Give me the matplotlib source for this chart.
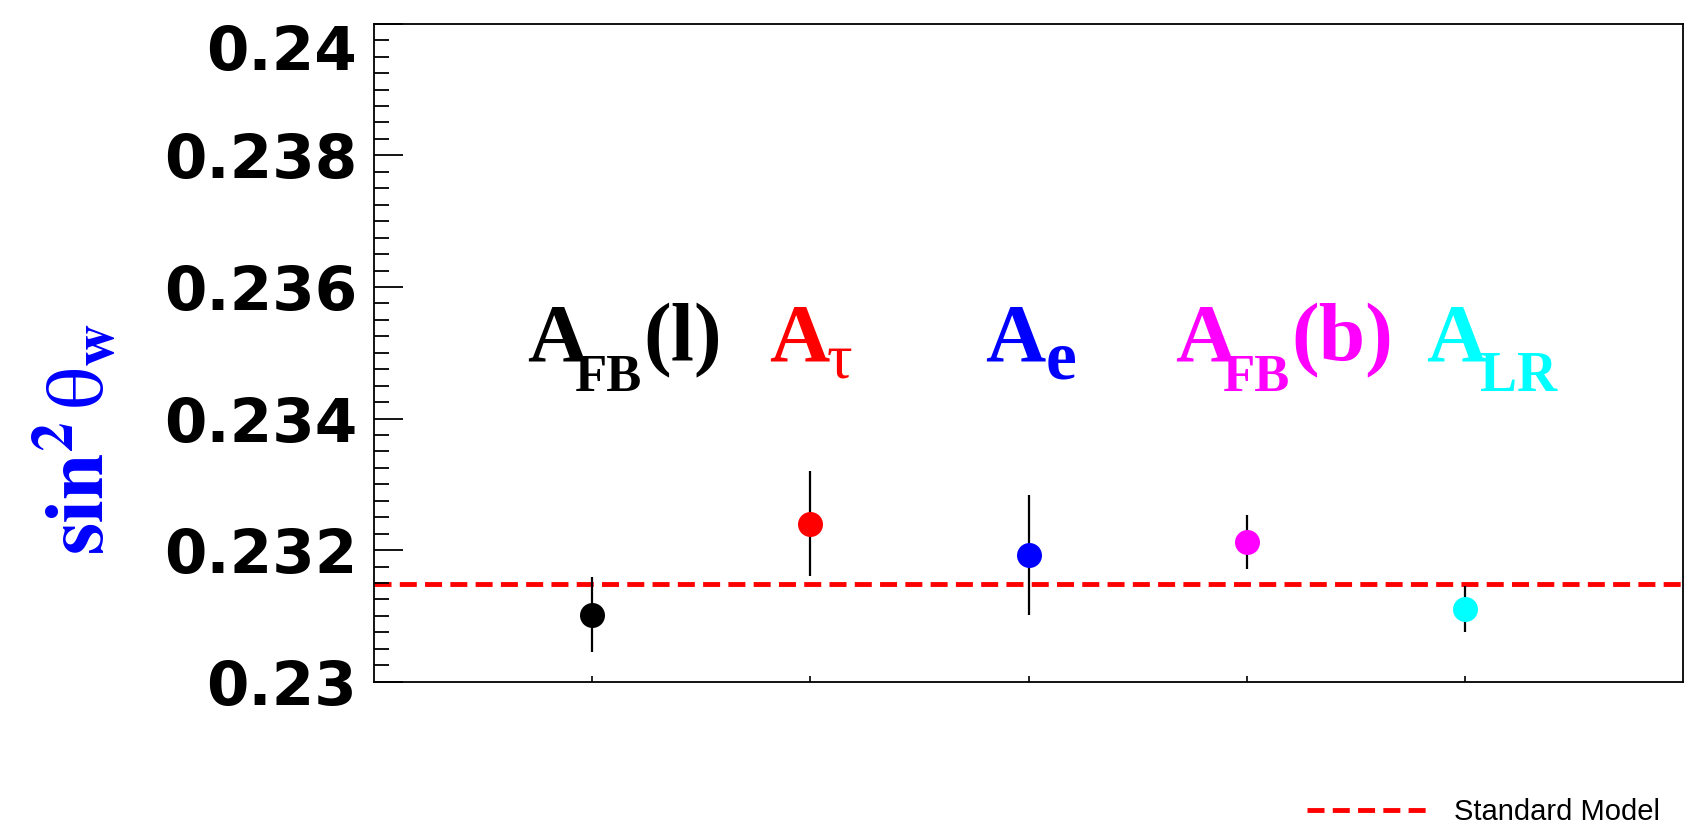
import numpy as np
import matplotlib.pyplot as plt
from matplotlib.ticker import MultipleLocator

plt.rcParams['mathtext.fontset'] = 'stix'

# 测量值 (sin^2 theta_w)
x_pos = [1, 2, 3, 4, 5]
sin2_values = [0.23102, 0.23240, 0.23193, 0.23212, 0.23110]
sin2_errors = [0.00057, 0.00080, 0.00091, 0.00041, 0.00035]
point_colors = ['black', 'red', 'blue', 'magenta', 'cyan']

# 标签: 主体 + 下标 + 后缀
label_main = ['A', 'A', 'A', 'A', 'A']
label_sub = ['FB', 'τ', 'e', 'FB', 'LR']
label_suffix = ['(l)', '', '', '(b)', '']
label_x = [0.70, 1.81, 2.80, 3.67, 4.82]
label_y = 0.23488

# 下标的字号、横向偏移、下沉量 (points)
sub_size = [38, 46, 50, 38, 40]
sub_dx = [-9, -2, 0, -9, -4]
sub_drop = [22, 12, 13, 22, 22]

# 标准模型
sm_value = 0.23148

y_ticks = [0.230, 0.232, 0.234, 0.236, 0.238, 0.240]
y_ticklabels = ['0.23', '0.232', '0.234', '0.236', '0.238', '0.24']

serif = ['Liberation Serif', 'DejaVu Serif']

fig = plt.figure(figsize=(16.94, 8.35), dpi=100)
ax = fig.add_axes([0.2208, 0.1836, 0.7728, 0.7879])

# 标准模型虚线
sm_line = ax.axhline(sm_value, color='red', linestyle=(0, (3.5, 1.7)), linewidth=3.5,
                     label='Standard Model', zorder=1)

# 误差棒和数据点
ax.errorbar(x_pos, sin2_values, yerr=sin2_errors, fmt='none', ecolor='black',
            elinewidth=1.6, capsize=0, zorder=2)
for x, y, c in zip(x_pos, sin2_values, point_colors):
    ax.plot(x, y, 'o', color=c, markersize=18, markeredgewidth=0, zorder=3)

# 手动拼接标签 (下标位置更低)
for i, c in enumerate(point_colors):
    t_main = ax.text(label_x[i], label_y, label_main[i], color=c, fontsize=60,
                     fontweight='bold', family=serif, ha='left', va='baseline')
    sub_weight = 'normal' if label_sub[i] == 'τ' else 'bold'
    t_sub = ax.annotate(label_sub[i], xy=(1, label_y), xycoords=(t_main, 'data'),
                        xytext=(sub_dx[i], -sub_drop[i]), textcoords='offset points',
                        color=c, fontsize=sub_size[i], fontweight=sub_weight,
                        family=serif, ha='left', va='baseline')
    if label_suffix[i]:
        ax.annotate(label_suffix[i], xy=(1, label_y), xycoords=(t_sub, 'data'),
                    xytext=(1, 0), textcoords='offset points',
                    color=c, fontsize=60, fontweight='bold', family=serif,
                    ha='left', va='baseline')

ax.set_xlim(0, 6)
ax.set_ylim(0.23, 0.24)
ax.set_xticks(x_pos)
ax.set_xticklabels([])
ax.set_yticks(y_ticks)
ax.set_yticklabels(y_ticklabels, fontsize=44, fontweight='bold', family='DejaVu Sans')
ax.yaxis.set_minor_locator(MultipleLocator(0.00025))
ax.tick_params(axis='y', which='major', direction='in', length=21, width=1.3, pad=12)
ax.tick_params(axis='y', which='minor', direction='in', length=10.5, width=1.3)
ax.tick_params(axis='x', which='major', direction='in', length=4.5, width=1.2)
for sp in ax.spines.values():
    sp.set_linewidth(1.3)

# 顶部标签放在刻度下方
ax.yaxis.get_major_ticks()[-1].label1.set_verticalalignment('top')

fig.text(0.046, 0.474, r'$\mathbf{sin}^{\mathbf{2}}\,\mathrm{\theta}_{\mathbf{w}}$',
         rotation=90, color='blue', fontsize=60, ha='center', va='center')

fig.legend(handles=[sm_line], loc='center left', bbox_to_anchor=(0.7717, 0.027),
           frameon=False, prop={'family': 'Liberation Sans', 'size': 21},
           handlelength=4.1, handletextpad=0.93, borderpad=0, borderaxespad=0)

plt.savefig('out.png', dpi=100)
